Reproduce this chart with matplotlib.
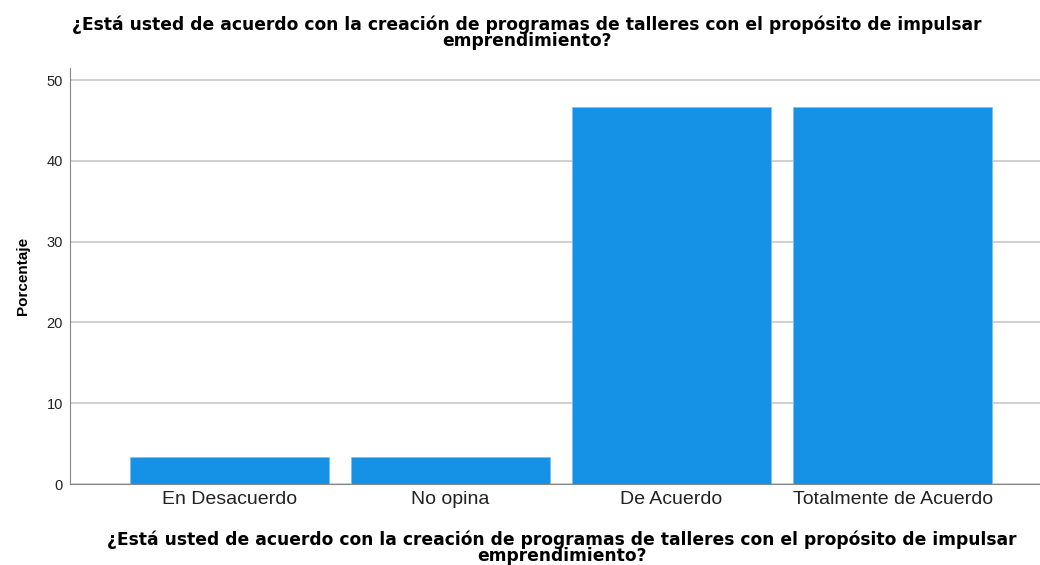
import matplotlib
matplotlib.use("Agg")
import matplotlib.pyplot as plt

categories = ["En Desacuerdo", "No opina", "De Acuerdo", "Totalmente de Acuerdo"]
percent = [3.33, 3.33, 46.67, 46.67]
yticks = [0, 10, 20, 30, 40, 50]
title = "¿Está usted de acuerdo con la creación de programas de talleres con el propósito de impulsar\nemprendimiento?"

plt.rcParams['font.family'] = ['Liberation Sans', 'DejaVu Sans']

fig = plt.figure(figsize=(10.4, 5.65), dpi=100)
ax = fig.add_axes([70/1040, 1-484/565, 970/1040, (484-68)/565])

x = list(range(len(categories)))
ax.bar(x, percent, width=0.9, color="#1591E6", edgecolor="#7cc0f0", linewidth=0.6, zorder=3)
ax.set_xlim(-0.722, 3.667)
ax.set_ylim(0, 51.5)
ax.set_yticks(yticks)
ax.set_yticklabels([str(t) for t in yticks], fontsize=10.5, color="#222222")
ax.set_xticks(x)
ax.set_xticklabels(categories, fontsize=14, color="#222222")
ax.tick_params(axis='y', length=0, pad=5)
ax.tick_params(axis='x', length=0, pad=5)
ax.grid(axis='y', color="#c4c4c4", linewidth=1.1, zorder=0)
for s in ['top', 'right']:
    ax.spines[s].set_visible(False)
ax.spines['left'].set_color("#888888")
ax.spines['bottom'].set_color("#888888")

ax.set_ylabel("Porcentaje", fontsize=11, fontweight='bold', labelpad=12)
tfont = dict(family='DejaVu Sans', fontsize=12.3, fontweight='bold', linespacing=0.86)
fig.text(527/1040, 1-33/565, title, ha='center', va='center', **tfont)
fig.text(562/1040, 1-548/565, title, ha='center', va='center', **tfont)

fig.savefig("out.png", dpi=100)
